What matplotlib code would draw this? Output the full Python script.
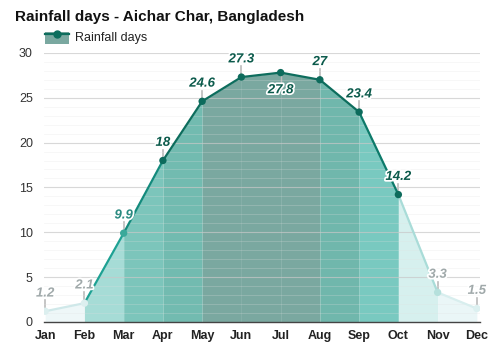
import numpy as np
import matplotlib.pyplot as plt
import matplotlib.patheffects as pe
from matplotlib.patches import Rectangle
from matplotlib.lines import Line2D

plt.rcParams['font.family'] = ['Liberation Sans', 'DejaVu Sans']

months = ['Jan', 'Feb', 'Mar', 'Apr', 'May', 'Jun', 'Jul', 'Aug', 'Sep', 'Oct', 'Nov', 'Dec']
rain_days = [1.2, 2.1, 9.9, 18, 24.6, 27.3, 27.8, 27, 23.4, 14.2, 3.3, 1.5]

# shade of each month-to-month band
fill_cols = ['#eef7f8', '#a6dcd6', '#7cc5bb', '#72bbb0', '#7aa8a0', '#7aa8a0',
             '#7aa8a0', '#70b7ac', '#79c9c0', '#d6f0ee', '#eaf6f7']
line_cols = ['#cfe8e9', '#1ea193', '#138a7c', '#0d6d5d', '#0d6d5d', '#0d6d5d',
             '#0d6d5d', '#0d6d5d', '#0d7a6a', '#a9dcd8', '#d8eeee']
dot_cols = ['#dcefef', '#dcefef', '#3aa99a', '#0d6b5c', '#0d6b5c', '#0d6b5c',
            '#0d6b5c', '#0d6b5c', '#0d6b5c', '#0d6b5c', '#b5e0dc', '#dcf0f0']
text_cols = ['#a0a9aa', '#a0a9aa', '#2a8a80', '#0b5a4b', '#0b5a4b', '#0b5a4b',
             '#0b5a4b', '#0b5a4b', '#0b5a4b', '#0b5a4b', '#a0a9aa', '#a0a9aa']

fig = plt.figure(figsize=(5, 3.5), dpi=100)
ax = fig.add_axes([0.088, 0.08, 0.872, 0.769])
x = np.arange(len(months))

for i in range(len(months) - 1):
    ax.fill_between(x[i:i + 2], rain_days[i:i + 2], 0, color=fill_cols[i], lw=0, zorder=1)
    ax.plot(x[i:i + 2], rain_days[i:i + 2], color=line_cols[i], lw=1.6, zorder=3,
            solid_capstyle='round')
ax.scatter(x, rain_days, s=28, c=dot_cols, zorder=4, linewidths=0)

halo = [pe.withStroke(linewidth=2.5, foreground='white')]
for i, v in enumerate(rain_days):
    label = f'{v:g}'
    if months[i] == 'Jul':
        ax.text(x[i], v - 1.3, label, ha='center', va='top', fontsize=9.5,
                fontweight='bold', style='italic', color=text_cols[i],
                path_effects=halo, zorder=6)
        ax.plot([x[i], x[i]], [v, v - 1.2], color='#bbbbbb', lw=1, zorder=2)
    else:
        ax.plot([x[i], x[i]], [v + 0.3, v + 1.2], color='#bbbbbb', lw=1.2, zorder=2)
        ax.text(x[i], v + 1.3, label, ha='center', va='bottom', fontsize=9.5,
                fontweight='bold', style='italic', color=text_cols[i],
                path_effects=halo, zorder=6)

ax.set_xlim(-0.03, 11.08)
ax.set_ylim(0, 30)
ax.set_xticks(x)
ax.set_xticklabels(months, fontweight='bold', fontsize=9, color='#222222')
ax.set_yticks(range(0, 31, 5))
ax.set_yticks(range(0, 31), minor=True)
ax.tick_params(axis='y', labelsize=9, colors='#333333', length=0, which='both', pad=8)
ax.tick_params(axis='x', length=0, pad=6)
ax.grid(axis='y', which='major', color='#c8c8c8', lw=0.8, alpha=0.7, zorder=2)
ax.grid(axis='y', which='minor', color='#e0e0e0', lw=0.5, alpha=0.35, zorder=2)
ax.set_axisbelow(False)
for s in ['top', 'right', 'left']:
    ax.spines[s].set_visible(False)
ax.spines['bottom'].set_color('#444444')
ax.spines['bottom'].set_linewidth(1)
ax.spines['bottom'].set_zorder(5)

fig.text(0.03, 0.95, 'Rainfall days - Aichar Char, Bangladesh', fontsize=11,
         fontweight='bold', va='center', color='#111111')

# legend swatch
fig.patches.append(Rectangle((0.09, 0.875), 0.048, 0.034, transform=fig.transFigure,
                             facecolor='#7aa8a0', edgecolor='none'))
fig.lines.append(Line2D([0.09, 0.138], [0.902, 0.902], transform=fig.transFigure,
                        color='#0d6d5d', lw=1.6))
fig.lines.append(Line2D([0.114], [0.902], transform=fig.transFigure, marker='o',
                        markersize=5, color='#0d6d5d'))
fig.text(0.15, 0.892, 'Rainfall days', fontsize=9, va='center', color='#222222')

fig.savefig('out.png', dpi=100)
